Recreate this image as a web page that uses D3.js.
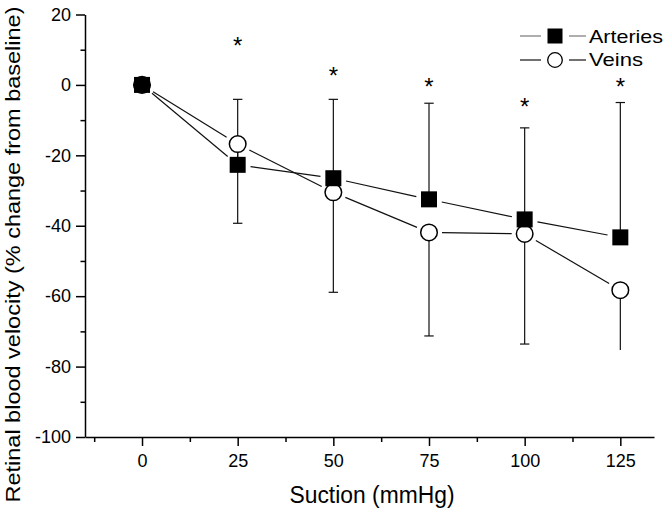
<!DOCTYPE html>
<html>
<head>
<meta charset="utf-8">
<script src="https://cdn.jsdelivr.net/npm/d3@7"></script>
<style>
  html, body { margin: 0; padding: 0; background: #fff; }
  svg { display: block; font-family: "Liberation Sans", Arial, Helvetica, sans-serif; }
</style>
</head>
<body>
<svg id="chart" width="666" height="509"></svg>
<script>
// ---- data ----
const suction = [0, 25, 50, 75, 100, 125];
const arteries = [0, -22.7, -26.5, -32.5, -38.2, -43.3];
const veins = [0, -16.8, -30.5, -41.9, -42.3, -58.3];
const arteriesErrUp = [0, 18.6, 22.4, 27.3, 26.0, 38.3];
const veinsErrDown = [0, 22.5, 28.4, 29.4, 31.3, 17.0];
const starLevel = [null, 12.5, 4.0, 0.9, -4.8, 0.9];
const xTickValues = [0, 25, 50, 75, 100, 125];
const xMinorTicks = [-12.5, 12.5, 37.5, 62.5, 87.5, 112.5];
const yTickValues = [-100, -80, -60, -40, -20, 0, 20];
const yMinorTicks = [-90, -70, -50, -30, -10, 10];
const seriesNames = ["Arteries", "Veins"];
const xTitle = "Suction (mmHg)";
const yTitle = "Retinal blood velocity (% change from baseline)";

// ---- layout ----
const svg = d3.select("#chart");
const x = d3.scaleLinear().domain([-14.9, 133.8]).range([85, 654]);
const y = d3.scaleLinear().domain([-100, 20]).range([437, 14.5]);
const font = "'Liberation Sans', Arial, Helvetica, sans-serif";

// axes
const gy = svg.append("g").attr("transform", `translate(${x.range()[0]},0)`);
gy.call(d3.axisLeft(y).tickValues(yTickValues).tickSize(9).tickSizeOuter(0).tickPadding(5).tickFormat(d => String(d)));
const gyMinor = svg.append("g").attr("transform", `translate(${x.range()[0]},0)`);
gyMinor.call(d3.axisLeft(y).tickValues(yMinorTicks).tickSize(4.5).tickSizeOuter(0).tickFormat(""));
gyMinor.select(".domain").remove();

const gx = svg.append("g").attr("transform", `translate(0,${y.range()[0]})`);
gx.call(d3.axisBottom(x).tickValues(xTickValues).tickSize(9).tickSizeOuter(0).tickPadding(8).tickFormat(d => String(d)));
const gxMinor = svg.append("g").attr("transform", `translate(0,${y.range()[0]})`);
gxMinor.call(d3.axisBottom(x).tickValues(xMinorTicks).tickSize(5).tickSizeOuter(0).tickFormat(""));
gxMinor.select(".domain").remove();

svg.selectAll(".domain, .tick line").attr("stroke", "#000").attr("stroke-width", 1.5);
svg.selectAll(".tick text").attr("font-family", font).attr("font-size", 18).attr("fill", "#000");

// axis titles
svg.append("text")
  .attr("x", 372).attr("y", 503)
  .attr("text-anchor", "middle")
  .attr("font-size", 23).attr("font-family", font)
  .attr("textLength", 165).attr("lengthAdjust", "spacingAndGlyphs")
  .text(xTitle);
svg.append("text")
  .attr("transform", "translate(20,254.5) rotate(-90)")
  .attr("text-anchor", "middle")
  .attr("font-size", 21).attr("font-family", font)
  .attr("textLength", 496).attr("lengthAdjust", "spacingAndGlyphs")
  .text(yTitle);

// connecting lines with gaps near markers
const gap = 13;
function drawSeriesLine(vals) {
  for (let i = 0; i < vals.length - 1; i++) {
    const x1 = x(suction[i]), y1 = y(vals[i]);
    const x2 = x(suction[i + 1]), y2 = y(vals[i + 1]);
    const len = Math.hypot(x2 - x1, y2 - y1);
    const ux = (x2 - x1) / len, uy = (y2 - y1) / len;
    svg.append("line")
      .attr("x1", x1 + ux * gap).attr("y1", y1 + uy * gap)
      .attr("x2", x2 - ux * gap).attr("y2", y2 - uy * gap)
      .attr("stroke", "#111").attr("stroke-width", 1.2);
  }
}
drawSeriesLine(arteries);
drawSeriesLine(veins);

// error bars
const capHalf = 4.7;
suction.forEach((s, i) => {
  const cx = x(s);
  if (arteriesErrUp[i] > 0) {
    const top = y(arteries[i] + arteriesErrUp[i]);
    svg.append("line").attr("x1", cx).attr("x2", cx).attr("y1", y(arteries[i])).attr("y2", top)
      .attr("stroke", "#111").attr("stroke-width", 1.2);
    svg.append("line").attr("x1", cx - capHalf).attr("x2", cx + capHalf).attr("y1", top).attr("y2", top)
      .attr("stroke", "#111").attr("stroke-width", 1.2);
  }
  if (veinsErrDown[i] > 0) {
    const bot = y(veins[i] - veinsErrDown[i]);
    svg.append("line").attr("x1", cx).attr("x2", cx).attr("y1", y(veins[i])).attr("y2", bot)
      .attr("stroke", "#111").attr("stroke-width", 1.2);
    if (i < suction.length - 1) {
      svg.append("line").attr("x1", cx - capHalf).attr("x2", cx + capHalf).attr("y1", bot).attr("y2", bot)
        .attr("stroke", "#111").attr("stroke-width", 1.2);
    }
  }
});

// markers: veins (open circles) then arteries (filled squares)
svg.selectAll("circle.veins").data(veins).enter().append("circle")
  .attr("class", "veins")
  .attr("cx", (d, i) => x(suction[i])).attr("cy", d => y(d)).attr("r", 8.3)
  .attr("fill", "#fff").attr("stroke", "#000").attr("stroke-width", 1.5);
const sq = 16;
svg.selectAll("rect.arteries").data(arteries).enter().append("rect")
  .attr("class", "arteries")
  .attr("x", (d, i) => x(suction[i]) - sq / 2).attr("y", d => y(d) - sq / 2)
  .attr("width", sq).attr("height", sq).attr("fill", "#000");

// significance stars
suction.forEach((s, i) => {
  if (starLevel[i] === null) return;
  svg.append("text")
    .attr("x", x(s)).attr("y", y(starLevel[i]) + 13.5)
    .attr("text-anchor", "middle")
    .attr("font-size", 24).attr("font-family", font)
    .text("*");
});

// legend
const legend = svg.append("g");
const legRows = [{ name: seriesNames[0], ly: 36, ty: 42.5, tl: 74 }, { name: seriesNames[1], ly: 60, ty: 65.5, tl: 54 }];
legRows.forEach((r, k) => {
  legend.append("line").attr("x1", 520).attr("x2", 541).attr("y1", r.ly).attr("y2", r.ly)
    .attr("stroke", k === 0 ? "#777" : "#111").attr("stroke-width", 1.2);
  legend.append("line").attr("x1", 569).attr("x2", 586).attr("y1", r.ly).attr("y2", r.ly)
    .attr("stroke", k === 0 ? "#777" : "#111").attr("stroke-width", 1.2);
  if (k === 0) {
    legend.append("rect").attr("x", 555 - 7.5).attr("y", r.ly - 7.5).attr("width", 15).attr("height", 15).attr("fill", "#000");
  } else {
    legend.append("circle").attr("cx", 555).attr("cy", r.ly).attr("r", 7.3)
      .attr("fill", "#fff").attr("stroke", "#000").attr("stroke-width", 1.3);
  }
  legend.append("text").attr("x", 589).attr("y", r.ty)
    .attr("font-size", 19).attr("font-family", font)
    .attr("textLength", r.tl).attr("lengthAdjust", "spacingAndGlyphs")
    .text(r.name);
});
</script>
</body>
</html>
